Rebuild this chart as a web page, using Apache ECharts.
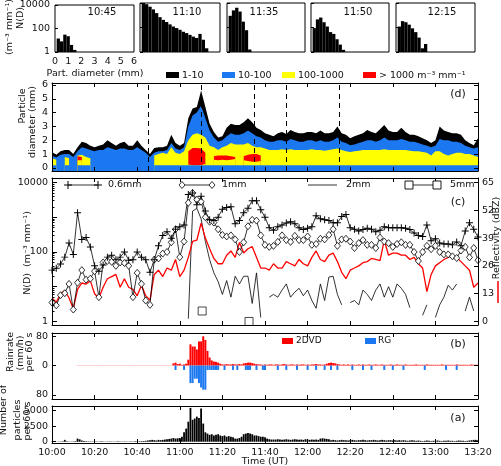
<!DOCTYPE html>
<html>
<head>
<meta charset="utf-8">
<script src="https://cdn.jsdelivr.net/npm/echarts@6/dist/echarts.min.js"></script>
<style>html,body{margin:0;background:#fff}#main{width:501px;height:466px}</style>
</head>
<body>
<div id="main"></div>
<script>
const n = null;

// size spectra shown on top (minutes after 10:00)
const psdMinutes = [45, 70, 95, 110, 135];
const psdLabels = ['10:45', '11:10', '11:35', '11:50', '12:15'];
const diamBins = [0.25,0.5,0.75,1.0,1.25,1.5,1.75,2.0,2.25,2.5,2.75,3.0,3.25,3.5,3.75,4.0,4.25,4.5,4.75,5.0];
const psd1045 = [14, 8, 30, 22, 4, 1.5];
const psd1110 = [10000,8000,5000,3000,1500,700,420,280,180,120,90,65,45,35,25,18,14,30,10,2];
const psd1135 = [900, 2500, 4100, 2000, 300, 60, 1.6];
const psd1150 = [90, 460, 650, 270, 120, 42, 30, 11, 4, 1.5];
const psd1215 = [120, 330, 270, 170, 85, 42, 15, 2, 4.5, 1];
const psdSeries = [psd1045, psd1110, psd1135, psd1150, psd1215];

// panels (c) and (d): one value every 2 minutes from 10:00
const stepMin = 2;
const nd06 = [30,34,45,71,180,85,1350,230,260,140,
  40,28,42,71,80,60,71,100,58,60,
  100,70,60,26,60,150,300,380,250,450,
  530,600,4500,5000,2300,4000,1500,840,800,1000,
  1700,1900,2000,650,800,1350,1800,3000,3000,1650,
  1000,500,420,530,600,680,740,650,500,440,
  480,530,1100,900,840,800,690,690,1050,1200,
  500,450,400,440,480,450,380,420,530,500,
  500,500,500,480,440,350,300,280,600,210,
  240,180,170,170,160,195,150,400,690,450,
  270];
const nd1 = [3.5,2.9,5.7,6.5,12,2.2,13,30,16,17,
  28,5,50,55,52,40,50,48,40,5,
  25,12,4,3,60,65,90,100,190,450,
  71,200,2600,5000,3200,2800,1000,740,700,450,
  310,280,300,230,100,190,550,840,800,300,
  160,140,150,195,300,220,195,290,220,220,
  280,160,170,240,230,310,450,150,230,240,
  200,130,180,220,160,160,130,260,200,180,
  140,170,190,160,160,100,55,100,150,120,
  150,100,85,85,75,67,110,140,70,130,
  58];
const nd2 = [n,n,n,n,n,n,n,n,n,n,
  n,n,n,n,n,n,n,n,n,n,
  n,n,n,n,n,n,n,n,n,n,
  n,n,1.2,1500,1800,900,200,60,25,14,
  6,15,5,20,12,20,20,3.3,25,1.3,
  n,5,6,5,8,12,5,7,9,5.5,
  8,4,2.4,12,4,19,20,6,3,n,
  3.5,4,3,8,6,4,8,12,5,10,
  5,12,9,6,2.5,n,n,1.5,3,n,
  1.3,3,5,11,8,12,n,2,5,2,
  n];
const nd5Minutes = [70.5, 92.5];
const nd5 = [2, 1];
const dbz = [11,9,13,14.5,11,6,15,18,17.5,19,
  13,11,16,20,21,22,16,20,16,15,
  12,17,12,10,22,24,21,25,24,29,
  21,24,30,37.5,38,46,39,34,29.5,27,
  27,31,33,30,37,32,34,35,30,25,
  25,24,27,25,25,28,27,26,29,27,
  26,30,33,29,28,31,32,28,23,20,
  24,25,26,27.5,28,29.5,29,28.5,38,31,
  32,32,31,31,29,30,27,25,14,22,
  26,27.5,29,30,31,30,28,26,24,16,
  18];

// contour bands of panel (d): upper diameter (mm) of each class
const topBlack = [1.16,0.95,1.2,1.3,1.3,1.0,1.5,1.9,1.8,1.6,
  1.5,1.6,1.7,2.0,1.8,1.6,1.8,1.9,1.6,1.6,
  2.0,1.6,1.3,1.0,1.45,1.5,1.5,1.6,2.4,1.8,
  1.6,1.8,3.6,4.3,4.4,5.6,4.4,3.2,2.6,2.2,
  2.3,2.9,3.2,3.1,3.1,3.3,3.6,3.3,2.9,2.75,
  2.5,2.4,2.3,2.5,2.6,2.45,2.75,2.6,2.5,2.5,
  2.6,2.6,2.5,2.7,2.5,2.5,2.6,3.0,2.5,2.4,
  2.15,2.3,2.4,2.5,2.75,2.6,2.5,2.8,3.1,2.7,
  2.6,2.6,2.9,2.6,2.4,2.4,2.3,2.15,2.0,1.8,
  2.0,3.0,2.7,2.6,2.5,2.5,2.4,2.0,1.8,1.65,
  2.15];
const topBlue = [0.9,0.75,0.95,1.0,1.0,0.8,1.2,1.5,1.4,1.3,
  1.2,1.3,1.3,1.5,1.4,1.3,1.4,1.4,1.3,1.3,
  1.5,1.3,1.1,0.8,1.1,1.2,1.2,1.3,1.8,1.4,
  1.3,1.5,3.0,3.8,4.0,4.5,3.6,2.7,2.2,1.9,
  2.0,2.3,2.5,2.4,2.4,2.5,2.7,2.5,2.3,2.2,
  2.0,1.9,1.9,2.0,2.0,1.9,2.1,2.0,1.9,1.9,
  2.0,2.0,1.9,2.0,1.9,1.9,2.0,2.2,1.9,1.8,
  1.65,1.7,1.8,1.9,2.0,2.0,1.9,2.0,2.2,2.0,
  2.0,2.0,2.1,2.0,1.9,1.9,1.8,1.7,1.6,1.5,
  1.6,2.1,2.0,2.0,1.9,1.9,1.8,1.6,1.5,1.4,
  1.5];
const topYellow = [0.7,0.6,n,0.8,0.7,n,0.9,0.95,0.8,0.7,
  n,n,n,n,n,n,n,n,n,n,
  n,n,n,n,0.9,1.0,1.1,1.0,1.5,1.1,
  1.0,1.2,2.0,2.4,2.5,2.4,2.2,1.6,1.5,1.3,
  1.5,1.6,1.8,1.7,1.7,1.7,1.8,1.6,1.5,1.5,
  1.4,1.3,1.3,1.3,1.35,1.3,1.35,1.3,1.3,1.3,
  1.3,1.35,1.3,1.3,1.25,1.3,1.35,1.4,1.3,1.2,
  1.15,1.2,1.25,1.3,1.3,1.3,1.3,1.3,1.35,1.3,
  1.3,1.3,1.3,1.3,1.25,1.2,1.2,1.15,1.1,0.9,
  1.2,1.2,1.0,0.9,1.0,1.1,1.1,1.0,1.0,0.9,
  0.8];
const yellowFloor = 0.2;
const topRed = [n,n,n,n,n,n,0.85,0.8,n,n,
  n,n,n,n,n,n,n,n,n,n,
  n,n,n,n,n,n,n,n,n,n,
  n,n,1.2,1.45,1.45,1.4,1.1,n,0.85,0.9,
  0.9,0.9,0.85,0.8,n,0.85,0.95,1.0,1.0,0.9,
  n,n,n,n,n,n,n,n,n,n,
  n,n,n,n,n,n,n,n,n,n,
  n,n,n,n,n,n,n,n,n,n,
  n,n,n,n,n,n,n,n,n,n,
  n,n,n,n,n,n,n,n,n,n,
  n];
const bottomRed = [n,n,n,n,n,n,0.55,0.55,n,n,
  n,n,n,n,n,n,n,n,n,n,
  n,n,n,n,n,n,n,n,n,n,
  n,n,0.25,0.2,0.2,0.2,0.3,n,0.6,0.55,
  0.6,0.55,0.6,0.65,n,0.55,0.5,0.45,0.45,0.5,
  n,n,n,n,n,n,n,n,n,n,
  n,n,n,n,n,n,n,n,n,n,
  n,n,n,n,n,n,n,n,n,n,
  n,n,n,n,n,n,n,n,n,n,
  n,n,n,n,n,n,n,n,n,n,
  n];

// panels (a) and (b): one value per minute from 10:00
const rain2dvd = [0,0,0,0,0,0,0,0,0,0,0,0,0.5,0.5,0.5,0.5,0.5,0.5,0.5,0.5,
  0.5,0.5,0.5,0.5,0.5,0.5,0.5,0.5,0.5,0.5,0.5,0.5,0.5,0.5,0.5,0.5,0.5,0.5,0.5,0.5,
  0.5,0.5,0.5,0.5,0.5,0.5,0.5,0.5,0.5,0.5,0.5,0.5,0.5,0.5,0.5,0.5,0.5,6,8,4,
  5,2,3,5,16,58,52,52,44,66,66,80,70,40,22,14,11,10,8,5,
  3,3,4,3,3,4,3,3,4,3,6,7,8,8,7,5,4,3,3,2,
  3,2,3,3,2,3,3,2,3,4,3,2,3,3,2,3,2,3,3,2,
  3,2,3,3,4,3,3,2,3,5,7,8,7,6,4,3,2,3,2,3,
  2,3,2,2,3,2,3,2,2,3,2,2,3,2,2,3,2,2,2,3,
  2,2,3,2,2,2,3,2,2,2,2,3,2,2,2,2,3,2,2,2,
  2,2,2,3,2,2,2,2,2,2,3,2,2,2,2,2,2,3,2,2,
  2];
const rgMinutes = [58,62,65,66,67,68,69,70,71,72,73,74,75,76,77,78,81,85,87,91,92,93,96,99,100,
  106,110,115,120,124,128,131,134,141,146,150,156,160,165,175,185,190];
const rgRate = [-12,-12,-48,-48,-36,-36,-48,-60,-66,-66,-12,-12,-12,-12,-12,-12,-12,-12,-12,-12,-12,
  -12,-12,-12,-12,-12,-12,-12,-12,-12,-12,-12,-12,-12,-12,-12,-12,-12,-12,-12,-12,-12];
const particles = [20,30,20,40,50,80,300,60,50,40,60,100,500,380,200,120,80,60,60,50,
  60,50,40,60,50,40,50,60,50,40,50,60,50,40,60,50,40,60,50,70,
  60,80,100,120,150,200,250,300,250,200,300,250,300,350,400,450,500,600,500,550,
  600,800,1500,2100,3200,5400,3500,3700,4000,3800,5300,2900,1500,1300,1100,1200,1000,1100,1200,1000,
  900,1000,800,900,800,700,500,500,600,800,1200,1300,1400,1300,1200,1000,1000,900,800,800,
  700,500,400,350,350,350,400,350,300,350,400,350,300,350,400,350,300,350,300,400,
  350,300,350,300,350,300,500,550,500,450,400,250,300,250,200,250,300,250,250,200,
  250,300,250,200,250,250,300,250,200,250,250,300,250,200,250,300,250,200,250,250,
  200,250,200,250,200,250,200,150,200,250,200,150,200,150,100,150,200,150,100,150,
  150,200,150,100,150,150,200,150,150,100,150,200,150,150,100,150,200,250,300,300,
  250];

const FONT = 'DejaVu Sans';
const black = '#000', red = '#ff0000', blue = '#1c78f0', yellow = '#ffff00';
const txt = { color: '#111', fontFamily: FONT, fontSize: 9.5 };
const at2 = arr => arr.map((v, k) => [k * stepMin, v]);
const at1 = arr => arr.map((v, t) => [t, v]);
const timeFmt = v => { const h = 10 + Math.floor(v / 60), m = v % 60; return h + ':' + (m < 10 ? '0' : '') + m; };
const plusPath = 'path://M-1,-0.14H-0.14V-1H0.14V-0.14H1V0.14H0.14V1H-0.14V0.14H-1Z';

const grid = [], xAxis = [], yAxis = [], series = [];

// five small spectra
const hLeft = [55, 140, 227, 311, 396];
const hWidth = [79, 80, 78, 78, 79];
hLeft.forEach((l, i) => {
  grid.push({ left: l, top: 3, width: hWidth[i], height: 49, show: true, borderColor: black, borderWidth: 1 });
  xAxis.push({ type: 'value', gridIndex: i, min: 0, max: 6, interval: 1,
    axisLine: { show: false }, axisTick: { show: false }, splitLine: { show: false },
    axisLabel: { show: i === 0, margin: 5, showMinLabel: true, showMaxLabel: true, ...txt } });
  yAxis.push({ type: 'log', gridIndex: i, min: 1, max: 10000, z: 10,
    axisLine: { show: false },
    axisTick: { show: true, inside: true, length: 3, customValues: [1, 100, 10000], lineStyle: { color: black } },
    axisLabel: { show: i === 0, customValues: [1, 100, 10000], formatter: v => String(v), margin: 5, ...txt },
    splitLine: { show: false } });
  series.push({ type: 'bar', xAxisIndex: i, yAxisIndex: i, barWidth: 3.3,
    data: psdSeries[i].map((v, j) => [diamBins[j], v]), itemStyle: { color: black } });
});

// main panels d, c, b, a  -> grids 5..8
[[83, 88], [178, 147], [333, 66], [406, 37]].forEach(([top, height]) => {
  grid.push({ left: 52, width: 426, top, height });
});
function timeAxis(gi, pos, labels) {
  return { type: 'value', gridIndex: gi, position: pos, min: 0, max: 200, interval: 20, z: 10,
    axisLine: { show: true, onZero: false, lineStyle: { color: black, width: 1 } },
    axisTick: { show: true, inside: true, length: 4, lineStyle: { color: black } },
    axisLabel: { show: labels, formatter: timeFmt, margin: 5, showMinLabel: true, showMaxLabel: true, ...txt },
    splitLine: { show: false } };
}
function valAxis(gi, pos, type, min, max, ticks, labels, fmt, tickLen) {
  return { type, gridIndex: gi, position: pos, min, max, z: 10,
    axisLine: { show: true, onZero: false, lineStyle: { color: black, width: 1 } },
    axisTick: { show: true, inside: true, length: tickLen || 4, customValues: ticks, lineStyle: { color: black } },
    axisLabel: { show: !!labels, customValues: labels || ticks, margin: 4, formatter: fmt || (v => String(v)), ...txt },
    splitLine: { show: false } };
}
[5, 6, 7, 8].forEach(gi => { xAxis.push(timeAxis(gi, 'bottom', gi === 8), timeAxis(gi, 'top', false)); });
// x: d 5/6, c 7/8, b 9/10, a 11/12
const dmTicks = [0, 1, 2, 3, 4, 5, 6];
yAxis.push(valAxis(5, 'left', 'value', -0.22, 6.14, dmTicks, dmTicks));           // 5
yAxis.push(valAxis(5, 'right', 'value', -0.22, 6.14, dmTicks, null));             // 6
yAxis.push(valAxis(6, 'left', 'log', 0.79, 13460, [1, 10, 100, 1000, 10000], [1, 100, 10000], null, 5)); // 7
yAxis.push(valAxis(6, 'right', 'value', -1.64, 67.1, [0, 13, 26, 39, 52, 65], [0, 13, 26, 39, 52, 65])); // 8
const minorLog = [];
[1, 10, 100, 1000].forEach(d => { for (let m = 2; m <= 9; m++) minorLog.push(m * d); });
const minorAxis = valAxis(6, 'left', 'log', 0.79, 13460, minorLog, null, null, 2.5);
minorAxis.axisLine.show = false;
yAxis.push(minorAxis);                                                             // 9
yAxis.push(valAxis(7, 'left', 'value', -91.5, 89, [-80, 0, 80], [-80, 0, 80], v => String(Math.abs(v)))); // 10
yAxis.push(valAxis(7, 'right', 'value', -91.5, 89, [-80, 0, 80], null));          // 11
yAxis.push(valAxis(8, 'left', 'value', -200, 5700, [0, 2500, 5000], [0, 2500, 5000])); // 12
yAxis.push(valAxis(8, 'right', 'value', -200, 5700, [0, 2500, 5000], null));      // 13

// panel (d) bands
function band(arr, color, extra) {
  return Object.assign({ type: 'line', xAxisIndex: 5, yAxisIndex: 5, data: at2(arr), symbol: 'none',
    lineStyle: { width: 0 }, itemStyle: { color }, areaStyle: { color, opacity: 1, origin: 'start' },
    connectNulls: false, silent: true }, extra || {});
}
series.push(band(topBlack, black, {
  markLine: { symbol: 'none', silent: true, label: { show: false },
    lineStyle: { color: black, type: [5, 4], width: 1 }, data: psdMinutes.map(m => ({ xAxis: m })) } }));
series.push(band(topBlue, blue));
series.push(band(topYellow, yellow));
series.push(band(topRed, red));
series.push(band(bottomRed, yellow));
series.push(band(topYellow.map(v => v == null ? null : yellowFloor), blue));

// panel (c)
series.push({ type: 'line', xAxisIndex: 7, yAxisIndex: 7, data: at2(nd2), symbol: 'none',
  lineStyle: { color: black, width: 0.8 }, itemStyle: { color: black }, connectNulls: false });
series.push({ type: 'line', xAxisIndex: 7, yAxisIndex: 8, data: at2(dbz), symbol: 'none',
  lineStyle: { color: red, width: 1.3 }, itemStyle: { color: red } });
series.push({ type: 'line', xAxisIndex: 7, yAxisIndex: 7, data: at2(nd1), symbol: 'diamond', symbolSize: [6, 7],
  lineStyle: { color: black, width: 0.8 }, itemStyle: { color: '#fff', borderColor: black, borderWidth: 0.8 } });
series.push({ type: 'line', xAxisIndex: 7, yAxisIndex: 7, data: at2(nd06), symbol: plusPath, symbolSize: 7,
  lineStyle: { color: black, width: 0.8 }, itemStyle: { color: black } });
series.push({ type: 'scatter', xAxisIndex: 7, yAxisIndex: 7, data: nd5Minutes.map((m, i) => [m, nd5[i]]),
  symbol: 'rect', symbolSize: 8, itemStyle: { color: '#fff', borderColor: black, borderWidth: 0.9 } });

// panel (b)
series.push({ type: 'bar', xAxisIndex: 9, yAxisIndex: 10, data: at1(rain2dvd), barWidth: 2, barGap: '-100%',
  itemStyle: { color: red } });
series.push({ type: 'bar', xAxisIndex: 9, yAxisIndex: 10, data: rgMinutes.map((m, i) => [m, rgRate[i]]),
  barWidth: 2, barGap: '-100%', itemStyle: { color: blue } });

// panel (a)
series.push({ type: 'bar', xAxisIndex: 11, yAxisIndex: 12, data: at1(particles), barWidth: 1.8,
  itemStyle: { color: black } });

// texts and legend samples
const ROT = Math.PI / 2;
const T = (text, x, y, o = {}) => ({ type: 'text', x, y, rotation: o.rot || 0, silent: true, z: 100,
  style: { text, fill: '#111', font: (o.size || 9.5) + 'px "' + FONT + '"',
    align: o.align || 'center', verticalAlign: 'middle', textAlign: o.align || 'center', textVerticalAlign: 'middle' } });
const R = (x, y, w, h, fill, stroke) => ({ type: 'rect', silent: true, z: 100, shape: { x, y, width: w, height: h },
  style: { fill, stroke: stroke || null, lineWidth: stroke ? 0.9 : 0 } });
const L = (x1, y1, x2, y2, stroke, w) => ({ type: 'line', silent: true, z: 100, shape: { x1, y1, x2, y2 },
  style: { stroke, lineWidth: w || 0.8 } });
const D = (cx, cy) => ({ type: 'polygon', silent: true, z: 101,
  shape: { points: [[cx, cy - 3.5], [cx + 3, cy], [cx, cy + 3.5], [cx - 3, cy]] }, style: { fill: '#fff', stroke: black, lineWidth: 0.8 } });

const psdLabelX = [102, 187, 264, 358, 442];
const elements = [];
psdLabels.forEach((s, i) => elements.push(T(s, psdLabelX[i], 12, { size: 10 })));
elements.push(
  T('N(D)', 21, 18, { rot: ROT }), T('(m\u207B\u00B3 mm\u207B\u00B9)', 10, 27, { rot: ROT }),
  T('Part. diameter (mm)', 95, 74),
  R(166, 72, 13, 6, black), T('1-10', 182, 75.5, { align: 'left' }),
  R(222, 72, 13, 6, blue), T('10-100', 238, 75.5, { align: 'left' }),
  R(282, 72, 13, 6, yellow), T('100-1000', 298, 75.5, { align: 'left' }),
  R(363, 72, 13, 6, red), T('> 1000 m\u207B\u00B3 mm\u207B\u00B9', 379, 75.5, { align: 'left' }),
  T('Particle', 23, 106, { rot: ROT }), T('diameter (mm)', 33, 122, { rot: ROT }),
  T('(d)', 458, 94, { size: 11 }),
  T('N(D)  (m\u207B\u00B3 mm\u207B\u00B9)', 28, 253, { rot: ROT }),
  L(68, 185, 98, 185, black), L(64, 185, 72, 185, black, 1), L(68, 181, 68, 189, black, 1),
  L(94, 185, 102, 185, black, 1), L(98, 181, 98, 189, black, 1), T('0.6mm', 108, 185, { align: 'left' }),
  L(182, 185, 212, 185, black), D(182, 185), D(212, 185), T('1mm', 222, 185, { align: 'left' }),
  L(308, 185, 337, 185, black), T('2mm', 346, 185, { align: 'left' }),
  L(409, 185, 437, 185, black), R(405, 181, 8, 8, '#fff', black), R(433, 181, 8, 8, '#fff', black),
  T('5mm', 450, 185, { align: 'left' }),
  T('(c)', 458, 202, { size: 11 }),
  T('Reflectivity (dBZ)', 497, 238, { rot: ROT }), L(498, 281, 498, 303, red, 1.5),
  T('Rainrate', 11, 352, { rot: ROT }), T('(mm/h)', 21, 353, { rot: ROT }), T('per 60 s', 30, 352, { rot: ROT }),
  R(282, 338, 11, 6, red), T('2DVD', 296, 341, { align: 'left', size: 9 }),
  R(365, 338, 11, 6, blue), T('RG', 378, 341, { align: 'left', size: 9 }),
  T('(b)', 458, 344, { size: 11 }),
  T('Number of', 4, 410, { rot: ROT }), T('particles', 18, 420, { rot: ROT }), T('per 60 s', 28, 421, { rot: ROT }),
  T('(a)', 458, 418, { size: 11 }),
  T('Time (UT)', 265, 462)
);

const chart = echarts.init(document.getElementById('main'));
chart.setOption({
  animation: false,
  backgroundColor: '#fff',
  grid, xAxis, yAxis, series,
  graphic: { elements }
});
</script>
</body>
</html>
